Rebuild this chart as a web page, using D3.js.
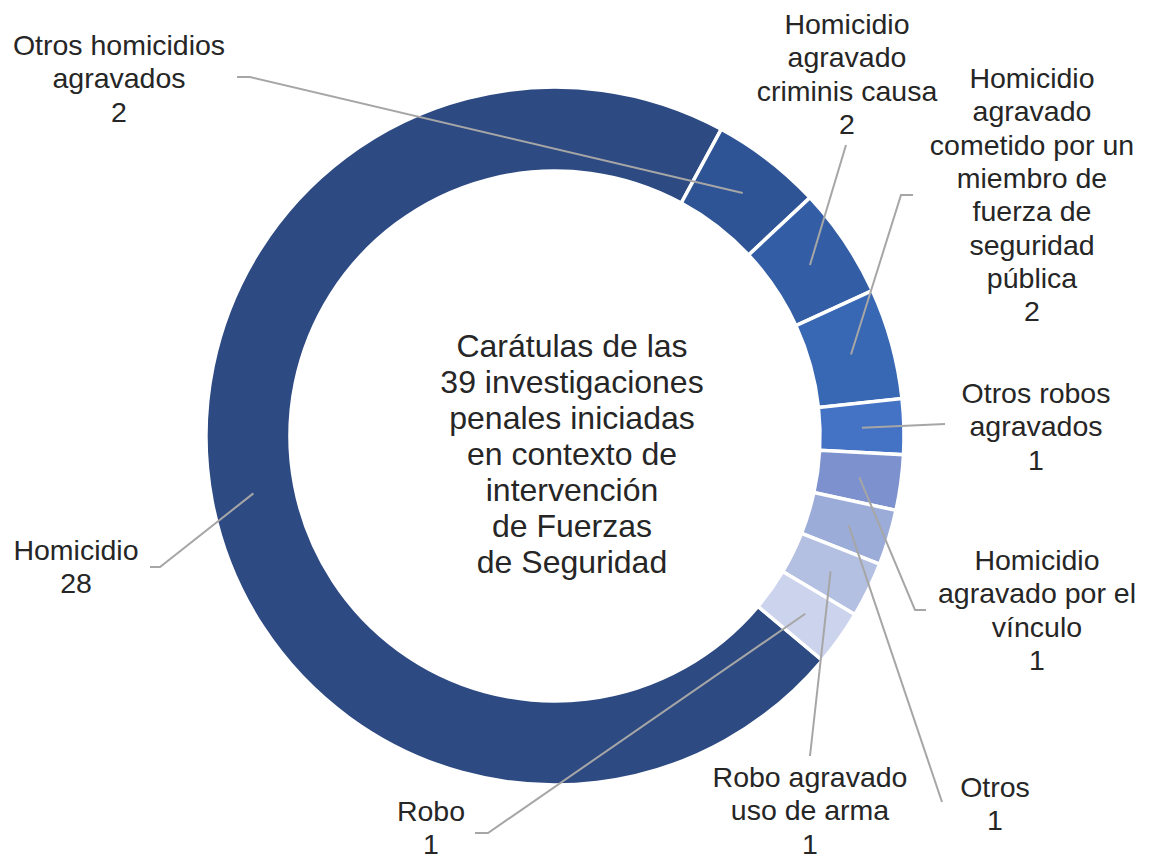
<!DOCTYPE html>
<html>
<head>
<meta charset="utf-8">
<script src="https://cdn.jsdelivr.net/npm/d3@7"></script>
<style>
  html, body { margin: 0; padding: 0; background: #fff; }
  svg { display: block; }
  text { font-family: "Liberation Sans", Arial, sans-serif; fill: #262626; }
</style>
</head>
<body>
<svg id="chart" width="1149" height="862"></svg>
<script>
// Categories and counts (total 39)
const categories = [
  "Homicidio",
  "Otros homicidios agravados",
  "Homicidio agravado criminis causa",
  "Homicidio agravado cometido por un miembro de fuerza de seguridad pública",
  "Otros robos agravados",
  "Homicidio agravado por el vínculo",
  "Otros",
  "Robo agravado uso de arma",
  "Robo"
];
const values = [28, 2, 2, 2, 1, 1, 1, 1, 1];

// Category names as broken across label lines
const labelLines = [
  ["Homicidio"],
  ["Otros homicidios", "agravados"],
  ["Homicidio", "agravado", "criminis causa"],
  ["Homicidio", "agravado", "cometido por un", "miembro de", "fuerza de", "seguridad", "pública"],
  ["Otros robos", "agravados"],
  ["Homicidio", "agravado por el", "vínculo"],
  ["Otros"],
  ["Robo agravado", "uso de arma"],
  ["Robo"]
];

const centerTitle = [
  "Carátulas de las",
  "39 investigaciones",
  "penales iniciadas",
  "en contexto de",
  "intervención",
  "de Fuerzas",
  "de Seguridad"
];

// Styling / layout
const colors = ["#2D4A82", "#2E5496", "#335EA6", "#3867B4", "#4472C4",
                "#7C91CD", "#9BACD9", "#B4C0E2", "#CCD3EC"];

// label anchor (centre x, first baseline) and leader path points after the slice centroid
const labelLayout = [
  { x: 76,   y: 560, path: [[160, 567], [150, 567]] },
  { x: 119,  y: 55,  path: [[250, 77], [237, 77]] },
  { x: 847,  y: 34,  path: [[846, 145]] },
  { x: 1032, y: 88,  path: [[901, 195], [913, 195]] },
  { x: 1036, y: 403, path: [[945, 424]] },
  { x: 1037, y: 570, path: [[915, 610], [926, 610]] },
  { x: 995,  y: 797, path: [[942, 802]] },
  { x: 810,  y: 787, path: [[810, 756]] },
  { x: 431,  y: 821, path: [[488, 833], [475, 833]] }
];

const cx = 555, cy = 436, rOuter = 349, rInner = 265;
const start = 130 * Math.PI / 180;
const labelSize = 28.5, labelLead = 33.3;

const svg = d3.select("#chart");
const g = svg.append("g").attr("transform", `translate(${cx},${cy})`);

const data = categories.map((c, i) => ({ cat: c, value: values[i], i }));

const pie = d3.pie().value(d => d.value).sort(null)
  .startAngle(start).endAngle(start + 2 * Math.PI);
const arcs = pie(data);

const arc = d3.arc().innerRadius(rInner).outerRadius(rOuter);

// slices
g.selectAll("path.slice")
  .data(arcs)
  .join("path")
  .attr("class", "slice")
  .attr("d", arc)
  .attr("fill", d => colors[d.data.i])
  .attr("stroke", "#fff")
  .attr("stroke-width", 3.5)
  .attr("stroke-linejoin", "miter");

// leader lines from slice centroid to label
const line = d3.line();
svg.selectAll("path.leader")
  .data(arcs)
  .join("path")
  .attr("class", "leader")
  .attr("d", d => {
    const c = arc.centroid(d);
    const pts = [[c[0] + cx, c[1] + cy]].concat(labelLayout[d.data.i].path);
    return line(pts);
  })
  .attr("fill", "none")
  .attr("stroke", "#A6A6A6")
  .attr("stroke-width", 2);

// data labels: category lines + value
const labels = svg.selectAll("text.label")
  .data(arcs)
  .join("text")
  .attr("class", "label")
  .attr("text-anchor", "middle")
  .attr("font-size", labelSize);

labels.each(function (d) {
  const L = labelLayout[d.data.i];
  const lines = labelLines[d.data.i].concat([String(d.data.value)]);
  const t = d3.select(this);
  lines.forEach((s, k) => {
    t.append("tspan").attr("x", L.x).attr("y", L.y + k * labelLead).text(s);
  });
});

// centre title
const title = svg.append("text")
  .attr("text-anchor", "middle")
  .attr("font-size", 32);
centerTitle.forEach((s, k) => {
  title.append("tspan").attr("x", 572).attr("y", 357 + k * 36).text(s);
});
</script>
</body>
</html>
